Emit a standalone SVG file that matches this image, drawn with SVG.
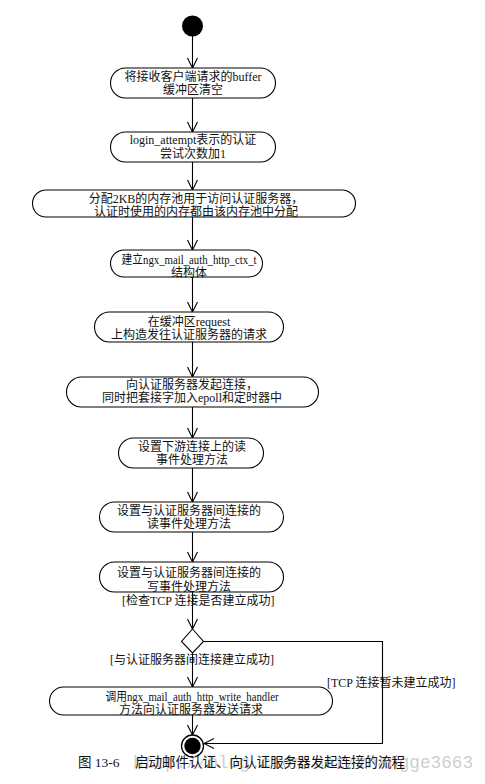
<svg xmlns="http://www.w3.org/2000/svg" width="485" height="784" viewBox="0 0 485 784">
<defs>
<style>
.n{fill:#fff;stroke:#000;stroke-width:1.1}
.t{font-family:"Liberation Serif","Noto Sans CJK SC",serif;font-size:12px;fill:#111;text-anchor:middle}
.l{font-family:"Liberation Serif","Noto Sans CJK SC",serif;font-size:12px;fill:#111}
.c{fill:none;stroke:#000;stroke-width:1.1}
</style>
<marker id="arr" markerWidth="12" markerHeight="12" refX="11" refY="6" orient="auto" markerUnits="userSpaceOnUse">
<path d="M1,1 L11,6 L1,11" fill="none" stroke="#000" stroke-width="1.1"/>
</marker>
</defs>
<rect width="485" height="784" fill="#fff"/>
<g id="start"><circle cx="192.5" cy="26" r="10.5" fill="#000"/></g>
<g id="connectors">
<line class="c" x1="192.5" y1="36" x2="192.5" y2="68" marker-end="url(#arr)"/>
<line class="c" x1="192.5" y1="98" x2="192.5" y2="132" marker-end="url(#arr)"/>
<line class="c" x1="192.5" y1="162" x2="192.5" y2="190" marker-end="url(#arr)"/>
<line class="c" x1="192.5" y1="217" x2="192.5" y2="250" marker-end="url(#arr)"/>
<line class="c" x1="192.5" y1="277" x2="192.5" y2="312" marker-end="url(#arr)"/>
<line class="c" x1="192.5" y1="342" x2="192.5" y2="377" marker-end="url(#arr)"/>
<line class="c" x1="192.5" y1="407" x2="192.5" y2="438" marker-end="url(#arr)"/>
<line class="c" x1="192.5" y1="468" x2="192.5" y2="502" marker-end="url(#arr)"/>
<line class="c" x1="192.5" y1="532" x2="192.5" y2="562" marker-end="url(#arr)"/>
<line class="c" x1="192.5" y1="592" x2="192.5" y2="629" marker-end="url(#arr)"/>
<line class="c" x1="192.5" y1="653" x2="192.5" y2="687" marker-end="url(#arr)"/>
<line class="c" x1="192.5" y1="715" x2="192.5" y2="735" marker-end="url(#arr)"/>
<polyline class="c" points="203.5,641.5 382.5,641.5 382.5,743.5 204,743.5" marker-end="url(#arr)"/>
<text class="l" x="122" y="605">[检查TCP 连接是否建立成功]</text>
<text class="l" x="110" y="664">[与认证服务器间连接建立成功]</text>
<text class="l" x="327" y="687">[TCP 连接暂未建立成功]</text>
</g>
<g id="n1"><rect class="n" x="110.5" y="68" width="165" height="30" rx="15"/>
<text class="t" x="193" y="81">将接收客户端请求的buffer</text><text class="t" x="193" y="94">缓冲区清空</text></g>
<g id="n2"><rect class="n" x="110.5" y="132" width="165" height="30" rx="15"/>
<text class="t" x="193" y="144">login_attempt表示的认证</text><text class="t" x="193" y="158">尝试次数加1</text></g>
<g id="n3"><rect class="n" x="32.5" y="190" width="323" height="27" rx="13.5"/>
<text class="t" x="196" y="203">分配2KB的内存池用于访问认证服务器，</text><text class="t" x="196" y="216">认证时使用的内存都由该内存池中分配</text></g>
<g id="n4"><rect class="n" x="110.5" y="250" width="152" height="27" rx="13.5"/>
<text class="t" x="189" y="264" textLength="135" lengthAdjust="spacingAndGlyphs">建立ngx_mail_auth_http_ctx_t</text><text class="t" x="189" y="277">结构体</text></g>
<g id="n5"><rect class="n" x="94.5" y="312" width="189" height="30" rx="15"/>
<text class="t" x="189" y="326">在缓冲区request</text><text class="t" x="189" y="339">上构造发往认证服务器的请求</text></g>
<g id="n6"><rect class="n" x="66.5" y="377" width="252" height="30" rx="15"/>
<text class="t" x="192" y="389">向认证服务器发起连接，</text><text class="t" x="192" y="402">同时把套接字加入epoll和定时器中</text></g>
<g id="n7"><rect class="n" x="118.5" y="438" width="145" height="30" rx="15"/>
<text class="t" x="192" y="451">设置下游连接上的读</text><text class="t" x="192" y="464">事件处理方法</text></g>
<g id="n8"><rect class="n" x="99.5" y="502" width="184" height="30" rx="15"/>
<text class="t" x="189" y="515">设置与认证服务器间连接的</text><text class="t" x="189" y="528">读事件处理方法</text></g>
<g id="n9"><rect class="n" x="99.5" y="562" width="184" height="30" rx="15"/>
<text class="t" x="189" y="577">设置与认证服务器间连接的</text><text class="t" x="189" y="591">写事件处理方法</text></g>
<g id="decision"><polygon class="n" points="192.5,629 203.5,641.5 192.5,653 181.5,641.5"/></g>
<g id="n10"><rect class="n" x="49.5" y="687" width="283" height="28" rx="14"/>
<text class="t" x="192" y="701" textLength="173" lengthAdjust="spacingAndGlyphs">调用ngx_mail_auth_http_write_handler</text><text class="t" x="191" y="714">方法向认证服务器发送请求</text></g>
<g id="end"><circle cx="192.5" cy="746" r="11" fill="#fff" stroke="#000" stroke-width="1.3"/><circle cx="192.5" cy="746" r="8.2" fill="#000"/></g>
<text x="133" y="768" font-family="Liberation Mono,monospace" font-size="17.7" fill="#cfcfcf" textLength="340">http://blog.csdn.net/zhangge3663</text>
<text x="78" y="767" font-family="Liberation Serif,'Noto Sans CJK SC',serif" font-size="13.5" fill="#111">图 13-6<tspan x="135">启动邮件认证、向认证服务器发起连接的流程</tspan></text>
</svg>
